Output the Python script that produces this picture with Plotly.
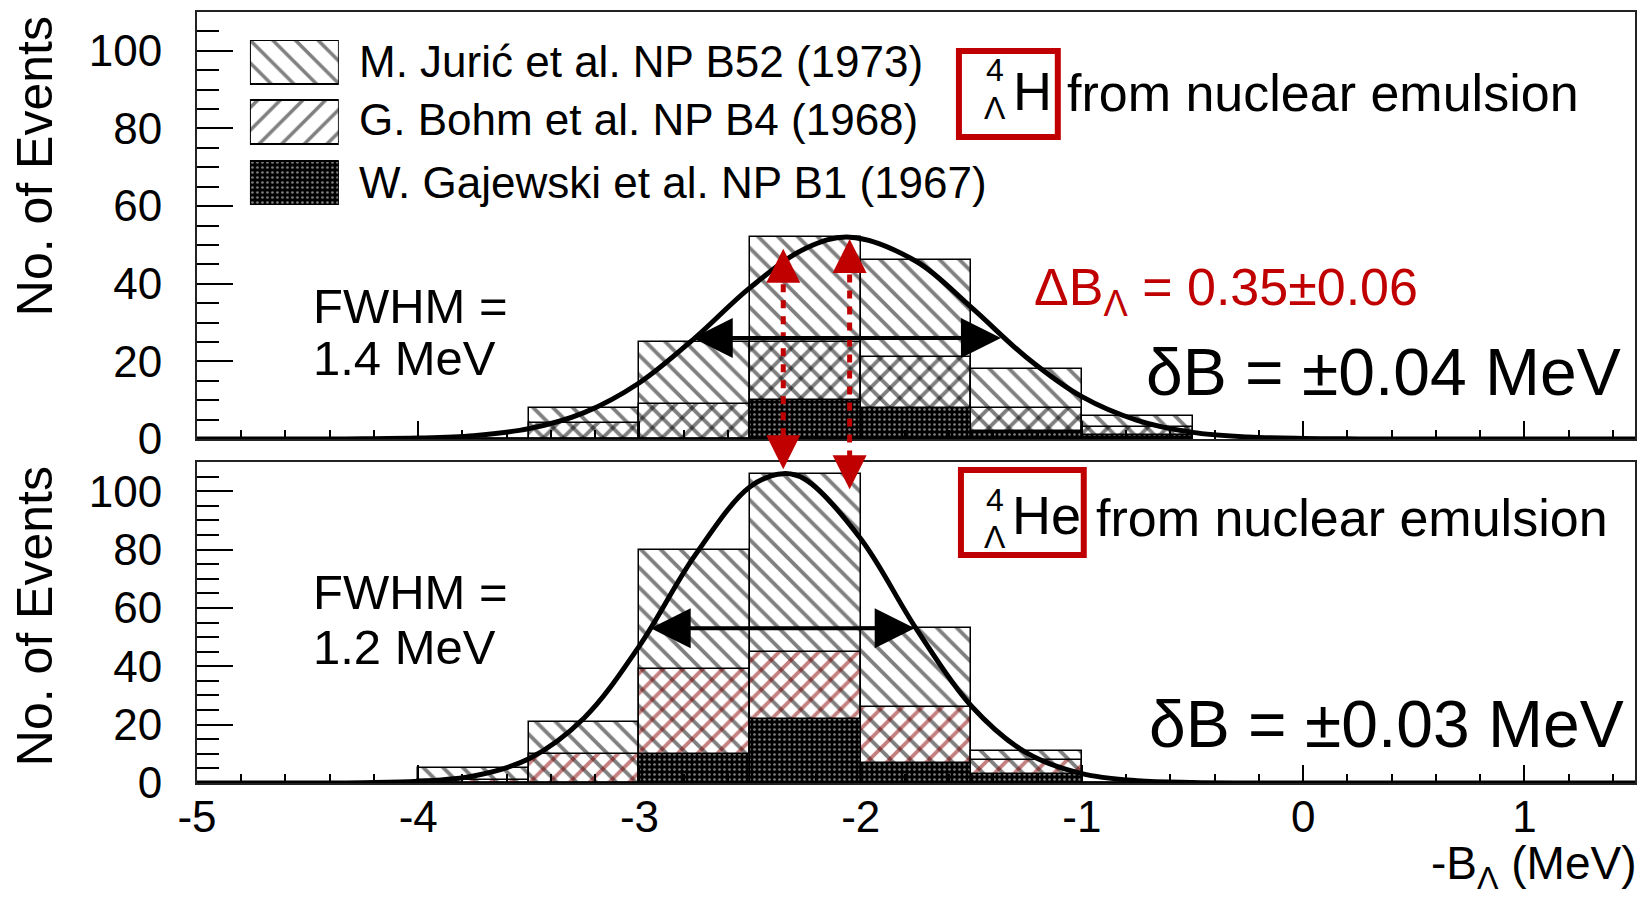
import plotly.graph_objects as go

# ---------------- data ----------------
bin_centers = [-3.75, -3.25, -2.75, -2.25, -1.75, -1.25, -0.75]
bin_width = 0.5

# 4ΛH (top panel), counts per 0.5 MeV bin
juric_H = [0, 4, 16, 27, 25, 10, 3]
bohm_H = [0, 4, 9, 15, 13, 6, 2]
gajewski_H = [0, 0, 0, 10, 8, 2, 1]

# 4ΛHe (bottom panel)
juric_He = [4, 11, 41, 61, 27, 3, 0]
bohm_He = [1, 10, 29, 23, 19, 5, 0]
gajewski_He = [0, 0, 10, 22, 7, 3, 0]

# fitted curves, points
fit_x_H = [-5.0, -4.5, -4.25, -4.0, -3.75, -3.5, -3.25, -3.0, -2.75, -2.5, -2.25, -2.05,
           -1.75, -1.5, -1.25, -1.0, -0.75, -0.5, -0.25, 0.0, 0.25, 0.5, 1.5]
fit_y_H = [0, 0.01, 0.06, 0.24, 0.87, 2.66, 6.8, 14.5, 26.0, 39.0, 49.1, 52.0,
           45.8, 33.9, 21.0, 10.9, 4.8, 1.7, 0.53, 0.14, 0.03, 0, 0]
fit_x_He = [-5.0, -4.5, -4.25, -4.0, -3.75, -3.5, -3.25, -3.0, -2.75, -2.5, -2.35, -2.25,
            -2.0, -1.75, -1.5, -1.25, -1.0, -0.75, -0.5, -0.25, 0.0, 1.5]
fit_y_He = [0, 0.01, 0.1, 0.56, 2.4, 8.3, 22.3, 47.0, 77.9, 101.5, 106.0, 104.0,
            83.7, 53.0, 26.4, 10.3, 3.2, 0.77, 0.15, 0.02, 0, 0]

# FWHM arrows: centre, width, half maximum
fwhm_H = dict(center=-2.066, width=1.4, half=26.0)
fwhm_He = dict(center=-2.356, width=1.2, half=53.0)

# red dashed arrows: x position, tip in top panel, tip in bottom panel
red_x = [-2.35, -2.05]
red_top_tip = [49.0, 51.5]
red_bot_tip = [107.5, 100.7]

legend_labels = ["M. Jurić et al. NP B52 (1973)",
                 "G. Bohm et al. NP B4 (1968)",
                 "W. Gajewski et al. NP B1 (1967)"]

x_ticks = [-5, -4, -3, -2, -1, 0, 1]
x_tick_text = ["-5", "-4", "-3", "-2", "-1", "0", "1"]
y_ticks = [0, 20, 40, 60, 80, 100]

# ---------------- geometry ----------------
W, H = 1647, 899
ML, MR, MT, MB = 197, 10, 12, 116
PW = W - ML - MR
PH = H - MT - MB
FONT = "Liberation Sans, Arial, Helvetica, sans-serif"
RED = "#c00000"


def xp(px):
    return (px - ML) / PW


def yp(py):
    return (H - MB - py) / PH


top_dom = [yp(439), 1.0]
bot_dom = [0.0, yp(462)]
Y_RANGE = [0, 110]


def top_paper(v):
    return top_dom[0] + v / Y_RANGE[1] * (top_dom[1] - top_dom[0])


def bot_paper(v):
    return bot_dom[0] + v / Y_RANGE[1] * (bot_dom[1] - bot_dom[0])


fig = go.Figure()


def stacked(a, b):
    return [x + y for x, y in zip(a, b)]


def add_hist(xa, ya, juric, bohm, gaj, bohm_color):
    total = stacked(stacked(juric, bohm), gaj)
    bg = stacked(bohm, gaj)
    fig.add_trace(go.Bar(
        x=bin_centers, y=total, width=[bin_width] * len(bin_centers),
        xaxis=xa, yaxis=ya, showlegend=False,
        marker=dict(color="white", line=dict(color="black", width=1.5),
                    pattern=dict(shape="\\", size=14, solidity=0.27,
                                 fgcolor="black", bgcolor="white"))))
    fig.add_trace(go.Bar(
        x=bin_centers, y=bg, width=[bin_width] * len(bin_centers),
        xaxis=xa, yaxis=ya, showlegend=False,
        marker=dict(color="rgba(0,0,0,0)", line=dict(color="black", width=1.5),
                    pattern=dict(shape="/", size=14, solidity=0.27,
                                 fgcolor=bohm_color, bgcolor="rgba(0,0,0,0)"))))
    fig.add_trace(go.Bar(
        x=bin_centers, y=gaj, width=[bin_width] * len(bin_centers),
        xaxis=xa, yaxis=ya, showlegend=False,
        marker=dict(color="black", line=dict(color="black", width=1.5),
                    pattern=dict(shape=".", size=5, solidity=0.22,
                                 fgcolor="white", bgcolor="black"))))


add_hist("x", "y", juric_H, bohm_H, gajewski_H, "black")
add_hist("x2", "y2", juric_He, bohm_He, gajewski_He, "#8a0000")

fig.add_trace(go.Scatter(x=fit_x_H, y=fit_y_H, xaxis="x", yaxis="y", mode="lines",
                         line=dict(color="black", width=5, shape="spline", smoothing=1.0),
                         showlegend=False))
fig.add_trace(go.Scatter(x=fit_x_He, y=fit_y_He, xaxis="x2", yaxis="y2", mode="lines",
                         line=dict(color="black", width=5, shape="spline", smoothing=1.0),
                         showlegend=False))

# legend swatches on an invisible helper axis
sw_shapes = [("\\", "black", "white", 16, 0.22), ("/", "black", "white", 16, 0.22),
             (".", "white", "black", 5, 0.22)]
sw_rows = [(40, 44), (100, 44), (161, 44)]
for (shape, fg, bgc, size, sol), (b, h) in zip(sw_shapes, sw_rows):
    fig.add_trace(go.Bar(x=[0.5], y=[h], base=[b], width=[1.0], xaxis="x3", yaxis="y3",
                         showlegend=False, hoverinfo="skip",
                         marker=dict(color=bgc, line=dict(color="black", width=2),
                                     pattern=dict(shape=shape, size=size, solidity=sol,
                                                  fgcolor=fg, bgcolor=bgc))))

axis_common = dict(showline=True, mirror=True, linecolor="#222", linewidth=2,
                   showgrid=False, zeroline=False, ticks="inside", tickcolor="black",
                   tickwidth=2, tickfont=dict(family=FONT, size=44, color="black"))

fig.update_layout(
    width=W, height=H, margin=dict(l=ML, r=MR, t=MT, b=MB),
    paper_bgcolor="white", plot_bgcolor="white",
    barmode="overlay", bargap=0, showlegend=False,
    font=dict(family=FONT, color="black"),
    xaxis=dict(domain=[0, 1], anchor="y", range=[-5, 1.5], matches="x2",
               tickvals=x_ticks, showticklabels=False, ticklen=18,
               minor=dict(dtick=0.2, ticklen=9, ticks="inside", tickwidth=2, tickcolor="black"),
               **axis_common),
    yaxis=dict(domain=top_dom, anchor="x", range=Y_RANGE, tickvals=y_ticks, ticklen=36,
               ticklabelstandoff=24,
               minor=dict(dtick=5, ticklen=22, ticks="inside", tickwidth=2, tickcolor="black"),
               **axis_common),
    xaxis2=dict(domain=[0, 1], anchor="y2", range=[-5, 1.5], tickvals=x_ticks,
                ticktext=x_tick_text, ticklen=18, ticklabelstandoff=-6,
                minor=dict(dtick=0.2, ticklen=9, ticks="inside", tickwidth=2, tickcolor="black"),
                **axis_common),
    yaxis2=dict(domain=bot_dom, anchor="x2", range=Y_RANGE, tickvals=y_ticks, ticklen=36,
                ticklabelstandoff=24,
                minor=dict(dtick=5, ticklen=22, ticks="inside", tickwidth=2, tickcolor="black"),
                **axis_common),
    xaxis3=dict(domain=[xp(250), xp(339)], anchor="y3", range=[0, 1], visible=False),
    yaxis3=dict(domain=[yp(205), yp(40)], anchor="x3", range=[205, 40], visible=False),
)

ann = []


def text(px, py, s, size, xanchor="left", color="black", angle=0):
    ann.append(dict(x=xp(px), y=yp(py), xref="paper", yref="paper", text=s,
                    showarrow=False, xanchor=xanchor, yanchor="middle", textangle=angle,
                    font=dict(family=FONT, size=size, color=color)))


# legend labels
for lab, cy in zip(legend_labels, [62, 120, 182]):
    text(357, cy, lab, 44)

# axis titles
text(35, 166, "No. of Events", 50, xanchor="center", angle=-90)
text(35, 616, "No. of Events", 50, xanchor="center", angle=-90)
text(1641, 866, "-B<sub>Λ</sub> (MeV)", 46, xanchor="right")

# panel texts
text(311, 306, "FWHM =", 49)
text(311, 358, "1.4 MeV", 49)
text(311, 592, "FWHM =", 49)
text(311, 647, "1.2 MeV", 49)
text(1625, 372, "δB = ±0.04 MeV", 66, xanchor="right")
text(1628, 724, "δB = ±0.03 MeV", 66, xanchor="right")
text(1033, 291, "ΔB<sub>Λ</sub> = 0.35±0.06", 52, color=RED)
text(1066, 93, "from nuclear emulsion", 52)
text(1095, 518, "from nuclear emulsion", 52)

# hypernucleus symbols
text(1012, 91, "H", 54)
text(985, 70, "4", 32)
text(983, 108, "Λ", 32)
text(1011, 515, "He", 54)
text(985, 500, "4", 32)
text(983, 537, "Λ", 32)

# FWHM double arrows
for fw, xa, ya in [(fwhm_H, "x", "y"), (fwhm_He, "x2", "y2")]:
    ann.append(dict(x=fw["center"] + fw["width"] / 2, y=fw["half"],
                    ax=fw["center"] - fw["width"] / 2, ay=fw["half"],
                    xref=xa, yref=ya, axref=xa, ayref=ya, text="", showarrow=True,
                    arrowhead=2, startarrowhead=2, arrowside="end+start",
                    arrowsize=2.0, startarrowsize=2.0, arrowwidth=4, arrowcolor="black",
                    standoff=0, startstandoff=0))

# red arrowheads
for xv, tt, bt in zip(red_x, red_top_tip, red_bot_tip):
    ann.append(dict(x=xv, y=tt, xref="x", yref="y", ax=0, ay=30, text="", showarrow=True,
                    arrowhead=2, arrowsize=1.7, arrowwidth=4, arrowcolor=RED, standoff=0))
    ann.append(dict(x=xv, y=bt, xref="x2", yref="y2", ax=0, ay=-30, text="", showarrow=True,
                    arrowhead=2, arrowsize=1.7, arrowwidth=4, arrowcolor=RED, standoff=0))

fig.update_layout(annotations=ann)

shapes = []
for xv, tt, bt in zip(red_x, red_top_tip, red_bot_tip):
    shapes.append(dict(type="line", xref="x", yref="paper", x0=xv, x1=xv,
                       y0=top_paper(tt - 5), y1=bot_paper(bt + 6),
                       line=dict(color=RED, width=5, dash="8px,8px"), layer="above"))
# red boxes
shapes.append(dict(type="rect", xref="paper", yref="paper", x0=xp(960), x1=xp(1059),
                   y0=yp(137), y1=yp(51), line=dict(color=RED, width=6)))
shapes.append(dict(type="rect", xref="paper", yref="paper", x0=xp(962), x1=xp(1085),
                   y0=yp(555), y1=yp(470), line=dict(color=RED, width=6)))
fig.update_layout(shapes=shapes)

fig.write_html("out.html")
